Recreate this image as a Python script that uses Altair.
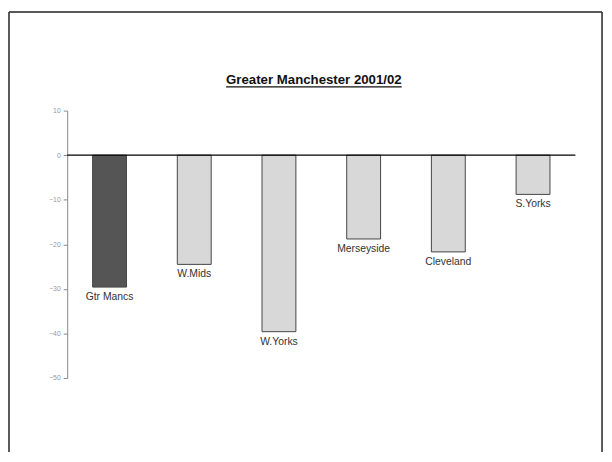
import altair as alt
import pandas as pd

regions = ["Gtr Mancs", "W.Mids", "W.Yorks", "Merseyside", "Cleveland", "S.Yorks"]
values = [-29.6, -24.5, -39.6, -18.8, -21.7, -8.8]
highlight = [True, False, False, False, False, False]
y_ticks = [10, 0, -10, -20, -30, -40, -50]
title_text = "Greater Manchester 2001/02"

df = pd.DataFrame({"region": regions, "value": values, "hl": highlight})

W, H = 515, 271

x_enc = alt.X("region:N", sort=regions, axis=None,
              scale=alt.Scale(paddingInner=0.6, paddingOuter=0.3))
y_scale = alt.Scale(domain=[-50, 10], nice=False, zero=False)

bars = alt.Chart(df).mark_bar(stroke="#444", strokeWidth=1).encode(
    x=x_enc,
    y=alt.Y("value:Q", scale=y_scale,
            axis=alt.Axis(values=y_ticks, grid=False, title=None,
                          labelFontSize=7, labelColor="#9a9a9a", domainColor="#888",
                          tickColor="#888", tickSize=4, labelPadding=3,
                          labelFont="Liberation Sans")),
    y2=alt.datum(0),
    color=alt.Color("hl:N", scale=alt.Scale(domain=[True, False],
                                            range=["#555555", "#d8d8d8"]), legend=None),
)

labels = alt.Chart(df).mark_text(baseline="top", dy=5, fontSize=10.5,
                                 font="Liberation Sans", color="#333").encode(
    x=x_enc,
    y=alt.Y("value:Q", scale=y_scale),
    text="region:N",
)

zero = alt.Chart(pd.DataFrame({"z": [0]})).mark_rule(color="black", strokeWidth=1.2).encode(
    y=alt.Y("z:Q", scale=y_scale),
)

title = alt.Chart(pd.DataFrame({"t": [title_text]})).mark_text(
    fontSize=13.4, fontWeight="bold", font="Liberation Sans", color="#111",
    baseline="middle", clip=False
).encode(x=alt.value(250), y=alt.value(-31), text="t:N")

underline = alt.Chart(pd.DataFrame({"t": [title_text]})).mark_rule(
    color="#111", strokeWidth=1.2, clip=False
).encode(x=alt.value(161), x2=alt.value(339), y=alt.value(-24))

frame_top = alt.Chart(pd.DataFrame({"t": [1]})).mark_rule(color="#222", strokeWidth=1.5, clip=False).encode(
    x=alt.value(-59), x2=alt.value(542), y=alt.value(-100))
frame_left = alt.Chart(pd.DataFrame({"t": [1]})).mark_rule(color="#222", strokeWidth=1.5, clip=False).encode(
    x=alt.value(-59), y=alt.value(-100), y2=alt.value(346))
frame_right = alt.Chart(pd.DataFrame({"t": [1]})).mark_rule(color="#222", strokeWidth=1.5, clip=False).encode(
    x=alt.value(542), y=alt.value(-100), y2=alt.value(346))

chart = alt.layer(bars, zero, labels, title, underline, frame_top, frame_left, frame_right).properties(
    width=W, height=H,
    background="white",
    autosize=alt.AutoSizeParams(type="none"),
    padding={"left": 60, "top": 101, "right": 29, "bottom": 74},
).configure_view(strokeWidth=0, stroke=None)

chart.save("out.html", embed_options={"renderer": "svg", "actions": False})
